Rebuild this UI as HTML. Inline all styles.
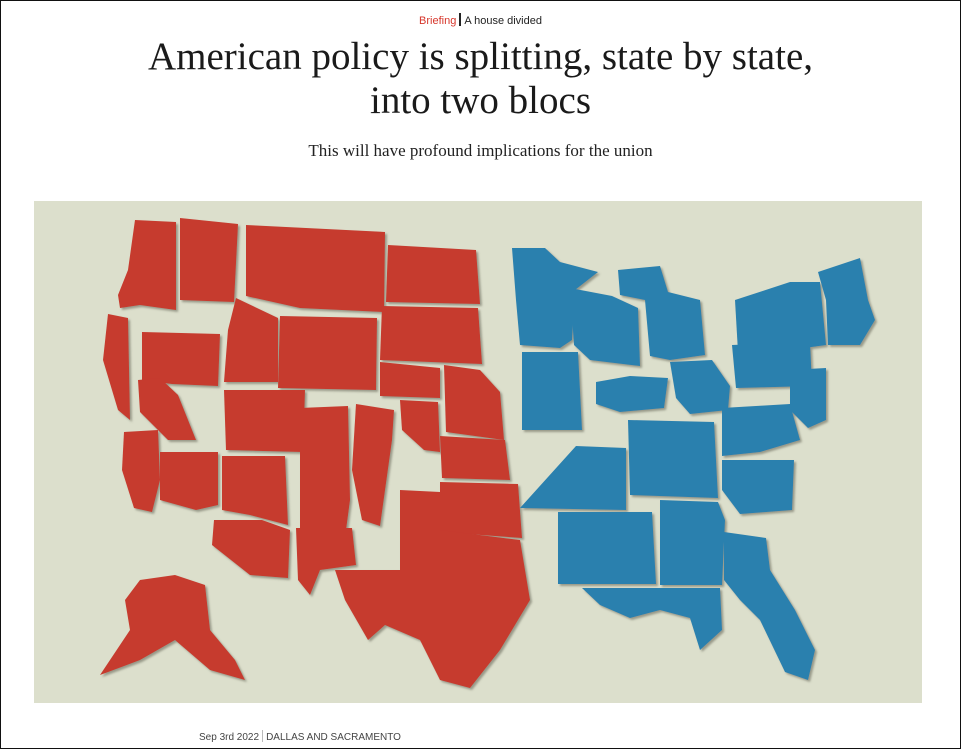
<!DOCTYPE html>
<html><head><meta charset="utf-8"><style>
html,body{margin:0;padding:0;background:#fff;}
body{width:961px;height:749px;position:relative;overflow:hidden;font-family:"Liberation Sans",sans-serif;}
.frame{position:absolute;left:0;top:0;width:959px;height:747px;border:1px solid #111;}
.kick{position:absolute;top:13px;left:0;width:961px;text-align:center;font-size:11px;color:#222;}
.kick .r{color:#d7362b;}
.kick .bar{display:inline-block;width:2px;height:13px;background:#222;vertical-align:-2px;margin:0 3px;}
h1{position:absolute;top:35px;left:0;width:961px;margin:0;text-align:center;font-family:"Liberation Serif",serif;font-weight:normal;font-size:39px;line-height:44px;color:#1a1a1a;}
.sub{position:absolute;top:141px;left:0;width:961px;text-align:center;font-family:"Liberation Serif",serif;font-size:17px;color:#222;}
.img{position:absolute;left:34px;top:201px;width:888px;height:502px;background:#dcdfcc;}
.date{position:absolute;top:730px;left:199px;font-size:10px;color:#444;}
.date .sep{display:inline-block;width:1px;height:12px;background:#bbb;vertical-align:-2px;margin:0 3px;}
</style></head><body>
<div class="frame"></div>
<div class="kick"><span class="r">Briefing</span><span class="bar"></span>A house divided</div>
<h1>American policy is splitting, state by state,<br>into two blocs</h1>
<div class="sub">This will have profound implications for the union</div>
<div class="img">
<svg width="888" height="502" viewBox="34 201 888 502" xmlns="http://www.w3.org/2000/svg">
<defs><filter id="s"><feDropShadow dx="2" dy="2" stdDeviation="1" flood-color="#6b6b5a" flood-opacity="0.6"/></filter></defs>
<g fill="#c63a2e" filter="url(#s)">
<polygon points="135,220 176,222 176,310 140,305 120,308 118,295 128,270"/>
<polygon points="180,218 238,224 234,302 180,300"/>
<polygon points="246,225 385,232 384,312 300,308 246,296"/>
<polygon points="388,245 476,250 480,304 386,302"/>
<polygon points="382,306 478,308 482,364 380,360"/>
<polygon points="108,314 128,318 130,420 118,410 103,360"/>
<polygon points="142,332 220,334 218,386 172,384 142,380"/>
<polygon points="236,298 278,318 278,382 224,382 228,330"/>
<polygon points="280,316 377,318 376,390 278,388"/>
<polygon points="380,362 440,368 440,398 380,396"/>
<polygon points="444,365 480,370 500,392 504,440 446,432"/>
<polygon points="138,380 160,378 178,395 196,440 168,440 140,412"/>
<polygon points="224,390 305,390 303,452 226,450"/>
<polygon points="300,408 348,406 350,500 346,530 300,528"/>
<polygon points="356,404 394,410 392,440 380,526 362,520 352,470"/>
<polygon points="400,400 438,402 440,452 424,450 402,430"/>
<polygon points="440,436 505,440 510,480 442,478"/>
<polygon points="124,432 158,430 160,480 152,512 134,508 122,470"/>
<polygon points="160,452 218,452 218,505 196,510 160,500"/>
<polygon points="222,456 285,456 288,525 250,515 222,510"/>
<polygon points="214,520 262,520 290,530 288,578 250,575 212,545"/>
<polygon points="296,528 352,528 356,565 320,570 310,595 298,580"/>
<polygon points="440,482 518,484 522,538 440,532"/>
<polygon points="400,490 440,492 440,530 520,540 530,600 500,650 470,688 440,680 420,640 385,625 368,640 345,600 335,570 400,570"/>
<polygon points="140,580 175,575 205,585 210,630 235,660 245,680 210,670 175,640 140,660 100,675 130,630 125,600"/>
</g>
<g fill="#2b80ae" filter="url(#s)">
<polygon points="512,248 545,248 560,262 598,272 575,290 572,340 560,348 520,345 516,300"/>
<polygon points="570,288 612,296 638,308 640,366 590,360 574,345"/>
<polygon points="618,270 660,266 668,292 700,300 705,355 670,360 650,356 645,300 620,295"/>
<polygon points="735,300 790,282 820,282 826,345 790,350 738,352"/>
<polygon points="818,272 848,262 860,258 868,300 875,320 860,345 828,345 826,300"/>
<polygon points="522,352 578,352 582,430 522,430"/>
<polygon points="596,382 630,376 668,378 664,408 620,412 596,404"/>
<polygon points="670,362 712,360 730,386 728,410 690,414 676,398"/>
<polygon points="732,345 810,342 812,386 736,388"/>
<polygon points="790,370 826,368 826,420 808,428 790,410"/>
<polygon points="722,408 790,404 800,440 760,452 722,456"/>
<polygon points="576,446 626,448 626,510 520,508"/>
<polygon points="628,420 714,422 718,498 630,495"/>
<polygon points="722,460 794,460 792,510 740,514 722,490"/>
<polygon points="558,512 652,512 656,584 558,584"/>
<polygon points="660,500 718,502 725,520 722,585 660,585"/>
<polygon points="582,588 720,588 722,630 700,650 690,618 660,610 630,618 600,605"/>
<polygon points="724,532 766,538 770,570 795,610 815,650 808,680 785,672 760,620 740,600 724,580"/>
</g>
</svg>
</div>
<div class="date">Sep 3rd 2022<span class="sep"></span>DALLAS AND SACRAMENTO</div>
</body></html>
